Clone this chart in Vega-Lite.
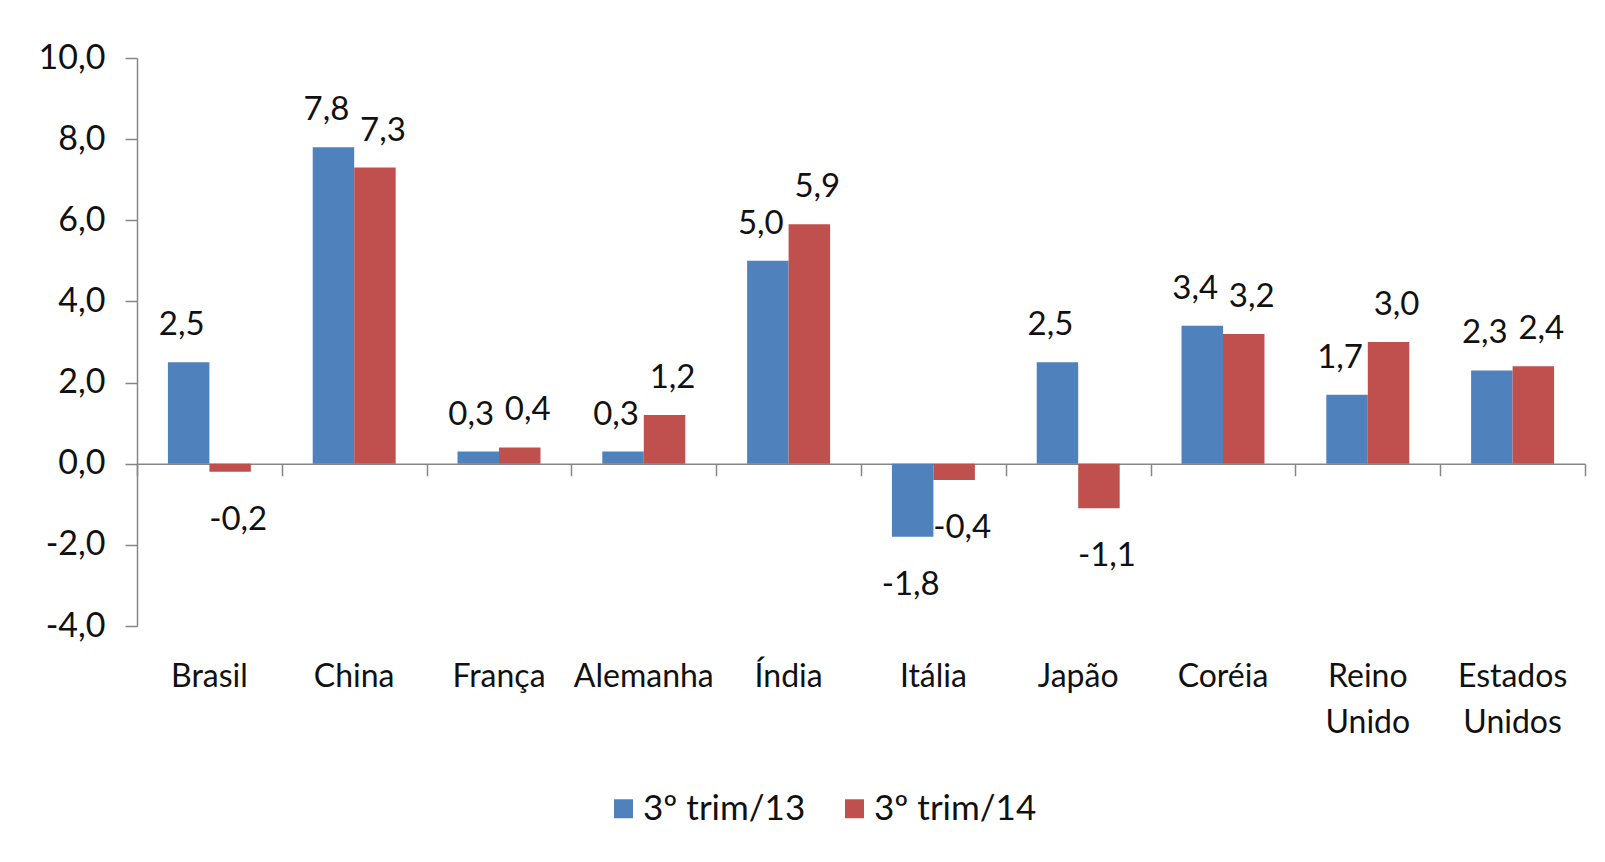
{
  "$schema": "https://vega.github.io/schema/vega-lite/v6.json",
  "width": 1448,
  "height": 568,
  "autosize": {"type": "none"},
  "padding": {"left": 137, "top": 58, "right": 20, "bottom": 236},
  "background": "white",
  "config": {
    "locale": {"number": {"decimal": ",", "thousands": ".", "grouping": [3], "currency": ["", ""], "minus": "-"}},
    "font": "Lato",
    "view": {"stroke": null},
    "axis": {"grid": false}
  },
  "data": {
    "values": [
      {"pais": "Brasil", "periodo": "3º trim/13", "valor": 2.5},
      {"pais": "Brasil", "periodo": "3º trim/14", "valor": -0.2},
      {"pais": "China", "periodo": "3º trim/13", "valor": 7.8},
      {"pais": "China", "periodo": "3º trim/14", "valor": 7.3},
      {"pais": "França", "periodo": "3º trim/13", "valor": 0.3},
      {"pais": "França", "periodo": "3º trim/14", "valor": 0.4},
      {"pais": "Alemanha", "periodo": "3º trim/13", "valor": 0.3},
      {"pais": "Alemanha", "periodo": "3º trim/14", "valor": 1.2},
      {"pais": "Índia", "periodo": "3º trim/13", "valor": 5.0},
      {"pais": "Índia", "periodo": "3º trim/14", "valor": 5.9},
      {"pais": "Itália", "periodo": "3º trim/13", "valor": -1.8},
      {"pais": "Itália", "periodo": "3º trim/14", "valor": -0.4},
      {"pais": "Japão", "periodo": "3º trim/13", "valor": 2.5},
      {"pais": "Japão", "periodo": "3º trim/14", "valor": -1.1},
      {"pais": "Coréia", "periodo": "3º trim/13", "valor": 3.4},
      {"pais": "Coréia", "periodo": "3º trim/14", "valor": 3.2},
      {"pais": "Reino Unido", "periodo": "3º trim/13", "valor": 1.7},
      {"pais": "Reino Unido", "periodo": "3º trim/14", "valor": 3.0},
      {"pais": "Estados Unidos", "periodo": "3º trim/13", "valor": 2.3},
      {"pais": "Estados Unidos", "periodo": "3º trim/14", "valor": 2.4}
    ]
  },
  "encoding": {
    "xOffset": {
      "field": "periodo",
      "type": "nominal",
      "sort": null,
      "scale": {"paddingInner": 0, "paddingOuter": 0.745}
    },
    "y": {
      "field": "valor",
      "type": "quantitative",
      "scale": {"domain": [-4, 10], "nice": false, "zero": false},
      "axis": {
        "title": null,
        "values": [-4, -2, 0, 2, 4, 6, 8, 10],
        "format": ".1f",
        "labelFontSize": 34,
        "labelColor": "#111111",
        "labelPadding": 20,
        "tickSize": 12,
        "tickColor": "#868686",
        "tickWidth": 1.5,
        "domainColor": "#868686",
        "domainWidth": 1.5
      }
    }
  },
  "layer": [
    {
      "mark": {"type": "bar"},
      "encoding": {
        "x": {
          "field": "pais",
          "type": "nominal",
          "sort": null,
          "scale": {"paddingInner": 0, "paddingOuter": 0},
          "axis": {
            "orient": "bottom",
            "title": null,
            "offset": -162.3,
            "labels": false,
            "domain": true,
            "domainColor": "#868686",
            "domainWidth": 1.5,
            "ticks": true,
            "tickBand": "extent",
            "tickSize": 12,
            "tickColor": "#868686",
            "tickWidth": 1.5
          }
        },
        "color": {
          "field": "periodo",
          "type": "nominal",
          "sort": null,
          "scale": {"domain": ["3º trim/13", "3º trim/14"], "range": ["#4F81BD", "#C0504D"]},
          "legend": {
            "orient": "none",
            "legendX": 469,
            "legendY": 733,
            "direction": "horizontal",
            "title": null,
            "labelFontSize": 35,
            "labelColor": "#111111",
            "labelLimit": 400,
            "symbolType": "square",
            "symbolSize": 360,
            "symbolStrokeWidth": 0,
            "labelOffset": 2,
            "columnPadding": 31
          }
        }
      }
    },
    {
      "transform": [{"filter": "datum.valor >= 0 && datum.periodo == '3º trim/13'"}],
      "mark": {"type": "text", "baseline": "alphabetic", "dy": -27, "dx": -7, "fontSize": 33, "color": "#111111"},
      "encoding": {
        "x": {
          "field": "pais",
          "type": "nominal",
          "sort": null,
          "axis": {
            "orient": "bottom",
            "title": null,
            "domain": false,
            "ticks": false,
            "labelFontSize": 32,
            "labelColor": "#111111",
            "labelPadding": 35,
            "labelAngle": 0,
            "labelExpr": "split(datum.label, ' ')",
            "labelLineHeight": 46
          }
        },
        "text": {"field": "valor", "type": "quantitative", "format": ".1f"}
      }
    },
    {
      "transform": [{"filter": "datum.valor >= 0 && datum.periodo == '3º trim/14'"}],
      "mark": {"type": "text", "baseline": "alphabetic", "dy": -27, "dx": 8, "fontSize": 33, "color": "#111111"},
      "encoding": {
        "x": {"field": "pais", "type": "nominal", "sort": null, "axis": null},
        "text": {"field": "valor", "type": "quantitative", "format": ".1f"}
      }
    },
    {
      "transform": [{"filter": "datum.valor < 0 && datum.periodo == '3º trim/13'"}],
      "mark": {"type": "text", "baseline": "top", "dy": 32, "dx": -2, "fontSize": 33, "color": "#111111"},
      "encoding": {
        "x": {"field": "pais", "type": "nominal", "sort": null, "axis": null},
        "text": {"field": "valor", "type": "quantitative", "format": ".1f"}
      }
    },
    {
      "transform": [{"filter": "datum.valor < 0 && datum.periodo == '3º trim/14'"}],
      "mark": {"type": "text", "baseline": "top", "dy": 32, "dx": 8, "fontSize": 33, "color": "#111111"},
      "encoding": {
        "x": {"field": "pais", "type": "nominal", "sort": null, "axis": null},
        "text": {"field": "valor", "type": "quantitative", "format": ".1f"}
      }
    }
  ],
  "resolve": {"axis": {"x": "independent"}}
}
